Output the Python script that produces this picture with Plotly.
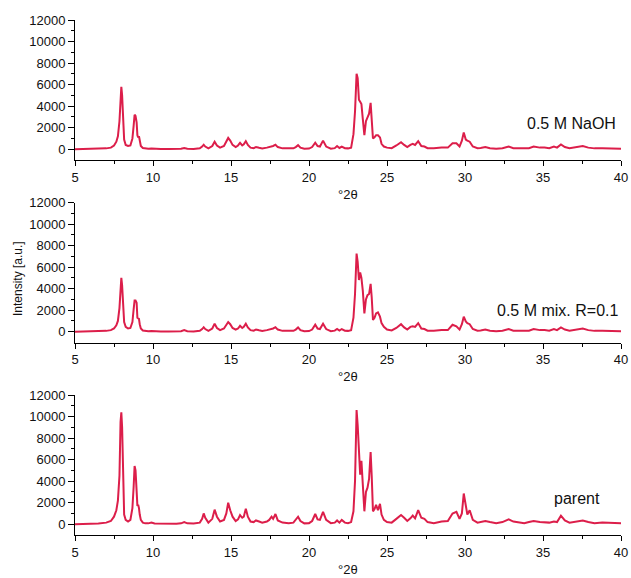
import plotly.graph_objects as go

# 2-theta sampling positions (degrees)
two_theta = [
    5.0, 5.5, 6.0, 6.5, 7.0, 7.3, 7.5, 7.65, 7.75, 7.85,
    7.92, 7.97, 8.02, 8.08, 8.15, 8.25, 8.4, 8.55, 8.68, 8.76,
    8.82, 8.88, 8.95, 9.0, 9.05, 9.1, 9.15, 9.22, 9.35, 9.5,
    9.7, 9.9, 10.1, 10.5, 11.0, 11.5, 11.8, 12.0, 12.2, 12.6,
    13.0, 13.15, 13.25, 13.35, 13.55, 13.8, 13.95, 14.1, 14.3, 14.55,
    14.7, 14.82, 14.95, 15.1, 15.3, 15.45, 15.58, 15.72, 15.82, 15.95,
    16.08, 16.25, 16.45, 16.6, 16.8, 17.0, 17.3, 17.45, 17.6, 17.7,
    17.85, 18.0, 18.3, 18.7, 19.0, 19.15, 19.3, 19.45, 19.7, 20.0,
    20.2, 20.4, 20.55, 20.7, 20.9, 21.1, 21.4, 21.65, 21.8, 21.95,
    22.1, 22.3, 22.5, 22.7, 22.85, 22.95, 23.05, 23.12, 23.2, 23.28,
    23.36, 23.45, 23.55, 23.65, 23.75, 23.85, 23.95, 24.02, 24.1, 24.2,
    24.3, 24.42, 24.55, 24.65, 24.8, 25.0, 25.3, 25.6, 25.9, 26.1,
    26.3, 26.5, 26.65, 26.8, 27.0, 27.2, 27.4, 27.6, 28.0, 28.5,
    28.9, 29.2, 29.45, 29.65, 29.8, 29.92, 30.05, 30.15, 30.3, 30.5,
    30.8, 31.0, 31.3, 31.6, 32.0, 32.4, 32.8, 33.1, 33.5, 33.8,
    34.1, 34.4, 34.8, 35.1, 35.4, 35.7, 35.9, 36.15, 36.4, 36.7,
    37.0, 37.3, 37.55, 37.9, 38.3, 38.8, 39.3, 40.0,
]

intensity_naoh = [
    0, 10, 20, 40, 80, 150, 350, 700, 1200, 2600,
    5000, 5800, 5000, 2800, 900, 400, 300, 350, 1000, 2200,
    3200, 3100, 2500, 1300, 1100, 1200, 700, 300, 120, 60,
    40, 60, 30, 20, 10, 20, 40, 120, 40, 30,
    80, 250, 420, 250, 80, 300, 700, 350, 150, 300,
    700, 1050, 800, 400, 200, 350, 600, 350, 450, 750,
    400, 150, 100, 200, 130, 80, 150, 200, 300, 300,
    420, 200, 80, 50, 80, 200, 380, 150, 40, 60,
    200, 600, 300, 250, 800, 250, 50, 100, 300, 120,
    250, 100, 80, 150, 1400, 3500, 7000, 6600, 4600, 4400,
    4200, 2800, 1300, 2600, 3000, 3300, 4300, 3000, 1000, 1100,
    1300, 1300, 1100, 500, 250, 150, 100, 350, 650, 400,
    200, 400, 500, 400, 750, 300, 250, 100, 80, 150,
    150, 550, 550, 250, 800, 1550, 900, 800, 700, 250,
    100, 120, 200, 100, 50, 100, 250, 100, 100, 80,
    100, 250, 150, 150, 100, 250, 150, 450, 200, 100,
    150, 250, 300, 150, 80, 100, 60, 50,
]

intensity_mix = [
    0, 10, 20, 40, 80, 150, 300, 600, 1000, 2200,
    4200, 5000, 4300, 2500, 900, 450, 300, 350, 900, 2100,
    2900, 2900, 2700, 1300, 1200, 1200, 700, 300, 120, 60,
    40, 60, 30, 20, 10, 20, 40, 150, 40, 30,
    80, 250, 420, 250, 80, 300, 750, 350, 150, 300,
    650, 900, 700, 350, 200, 300, 550, 350, 450, 750,
    400, 150, 100, 200, 130, 80, 150, 200, 300, 300,
    420, 200, 80, 50, 80, 200, 400, 150, 40, 60,
    200, 650, 300, 250, 750, 250, 50, 100, 250, 100,
    250, 100, 80, 150, 1300, 3500, 7250, 6500, 4800, 5500,
    5000, 3800, 1700, 3000, 3400, 3500, 4450, 3200, 1100, 1300,
    1700, 1800, 1400, 800, 450, 200, 120, 350, 700, 400,
    200, 450, 500, 450, 800, 300, 250, 100, 80, 150,
    150, 650, 500, 200, 700, 1400, 950, 800, 700, 250,
    100, 120, 200, 100, 50, 100, 250, 100, 100, 80,
    100, 250, 150, 150, 100, 250, 150, 400, 200, 100,
    150, 250, 300, 150, 80, 100, 60, 50,
]

intensity_parent = [
    0, 20, 30, 60, 150, 300, 700, 1300, 2200, 4500,
    9500, 10400, 9000, 5000, 900, 400, 250, 400, 1500, 3500,
    5400, 5000, 3500, 1700, 1800, 1500, 900, 400, 150, 80,
    80, 150, 60, 40, 30, 40, 80, 200, 80, 60,
    150, 500, 1000, 600, 150, 500, 1350, 700, 250, 400,
    1000, 2000, 1300, 700, 300, 450, 850, 600, 700, 1450,
    700, 250, 200, 350, 250, 150, 250, 400, 700, 500,
    950, 350, 150, 100, 150, 400, 700, 300, 80, 100,
    300, 950, 450, 400, 1150, 400, 100, 150, 350, 150,
    400, 150, 100, 200, 1200, 4000, 10600, 9200, 6800, 4600,
    5900, 4000, 1200, 3000, 3400, 4200, 6700, 4500, 1200, 1400,
    1800, 1300, 1900, 900, 400, 200, 150, 500, 850, 600,
    300, 550, 800, 550, 1300, 600, 500, 200, 100, 250,
    300, 1000, 1150, 500, 1000, 2850, 1600, 900, 1300, 400,
    150, 200, 300, 200, 100, 200, 450, 250, 200, 100,
    200, 300, 200, 150, 150, 250, 200, 800, 350, 150,
    200, 300, 350, 200, 100, 150, 100, 80,
]

sample_labels = ["0.5 M NaOH", "0.5 M mix. R=0.1", "parent"]
x_ticks = [5, 10, 15, 20, 25, 30, 35, 40]
x_tick_text = ["5", "10", "15", "20", "25", "30", "35", "40"]
y_ticks = [0, 2000, 4000, 6000, 8000, 10000, 12000]
y_tick_text = ["0", "2000", "4000", "6000", "8000", "10000", "12000"]

assert len(two_theta) == len(intensity_naoh) == len(intensity_mix) == len(intensity_parent)

W, H = 631, 578
FONT = "Arial, 'Liberation Sans', sans-serif"
LINE_COLOR = "#DC1E4A"

# panel pixel extents (top, bottom) from the top of the page
panels = [(20, 160), (202.5, 342.5), (395, 535)]
x_left, x_right = 75, 621

series = [intensity_naoh, intensity_mix, intensity_parent]

fig = go.Figure()
for i, ys in enumerate(series):
    n = "" if i == 0 else str(i + 1)
    fig.add_trace(go.Scatter(
        x=two_theta, y=ys, mode="lines",
        line=dict(color=LINE_COLOR, width=2),
        xaxis="x" + n, yaxis="y" + n, showlegend=False,
        hoverinfo="skip",
    ))

layout = dict(
    template="none",
    width=W, height=H, autosize=False,
    margin=dict(l=0, r=0, t=0, b=0, pad=0),
    paper_bgcolor="white", plot_bgcolor="white",
    font=dict(family=FONT, color="#111", size=13),
    showlegend=False,
)

annotations = []
for i, (top, bot) in enumerate(panels):
    n = "" if i == 0 else str(i + 1)
    layout["xaxis" + n] = dict(
        domain=[x_left / W, x_right / W], range=[5, 40],
        anchor="y" + n, automargin=False,
        showline=True, linecolor="black", linewidth=1,
        showgrid=False, zeroline=False,
        tickmode="array", tickvals=x_ticks, ticktext=x_tick_text,
        ticks="outside", ticklen=5, tickcolor="black", tickwidth=1,
        minor=dict(tickvals=[7.5, 12.5, 17.5, 22.5, 27.5, 32.5, 37.5],
                   ticks="outside", ticklen=3,
                   tickcolor="black", tickwidth=1, showgrid=False),
        tickfont=dict(family=FONT, size=13, color="#111"),
    )
    layout["yaxis" + n] = dict(
        domain=[1 - bot / H, 1 - top / H], range=[-1000, 12000],
        anchor="x" + n, automargin=False,
        showline=True, linecolor="black", linewidth=1,
        showgrid=False, zeroline=False,
        tickmode="array", tickvals=y_ticks, ticktext=y_tick_text,
        ticks="outside", ticklen=6, tickcolor="black", tickwidth=1,
        minor=dict(tickvals=[1000, 3000, 5000, 7000, 9000, 11000],
                   ticks="outside", ticklen=3,
                   tickcolor="black", tickwidth=1, showgrid=False),
        tickfont=dict(family=FONT, size=13, color="#111"),
    )
    # x axis title
    annotations.append(dict(
        text="°2θ", xref="paper", yref="paper",
        x=(x_left + x_right) / 2 / W, y=1 - (bot + 34) / H,
        xanchor="center", yanchor="middle", showarrow=False,
        font=dict(family=FONT, size=13, color="#111"),
    ))

label_pos = [(618, 124), (620, 310.5), (602, 498)]
for lab, (px, py) in zip(sample_labels, label_pos):
    annotations.append(dict(
        text=lab, xref="paper", yref="paper",
        x=px / W, y=1 - py / H, xanchor="right", yanchor="middle",
        showarrow=False, font=dict(family=FONT, size=16, color="#111"),
    ))

annotations.append(dict(
    text="Intensity [a.u.]", xref="paper", yref="paper",
    x=18 / W, y=1 - 279 / H, xanchor="center", yanchor="middle",
    textangle=-90, showarrow=False,
    font=dict(family=FONT, size=12, color="#111"),
))

layout["annotations"] = annotations
fig.update_layout(**layout)
fig.write_html("out.html")
